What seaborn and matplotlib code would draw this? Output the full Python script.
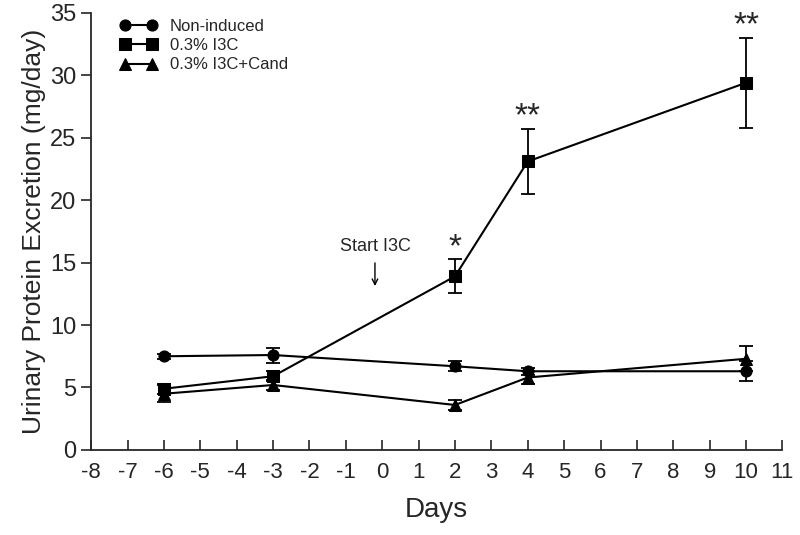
import numpy as np
import pandas as pd
import matplotlib
matplotlib.use("Agg")
import matplotlib.pyplot as plt
import seaborn as sns

# data
days = [-6, -3, 2, 4, 10]
groups = ["Non-induced", "0.3% I3C", "0.3% I3C+Cand"]
non_induced = [7.5, 7.6, 6.7, 6.3, 6.3]
non_induced_err = [0.2, 0.6, 0.4, 0.3, 0.8]
i3c = [4.9, 5.9, 13.9, 23.1, 29.4]
i3c_err = [0.4, 0.4, 1.35, 2.6, 3.6]
i3c_cand = [4.5, 5.2, 3.6, 5.8, 7.3]
i3c_cand_err = [0.7, 0.4, 0.4, 0.5, 1.0]
markers = {"Non-induced": "o", "0.3% I3C": "s", "0.3% I3C+Cand": "^"}

star_days = [2, 4, 10]
star_text = ["*", "**", "**"]

df = pd.DataFrame({
    "Days": days * 3,
    "Value": non_induced + i3c + i3c_cand,
    "Err": non_induced_err + i3c_err + i3c_cand_err,
    "Group": [g for g in groups for _ in days],
})

sns.set_style("ticks")
plt.rcParams["font.family"] = ["Liberation Sans", "DejaVu Sans"]
plt.rcParams["axes.unicode_minus"] = False

fig, ax = plt.subplots(figsize=(8, 5.35), dpi=100)
fig.subplots_adjust(left=0.114, right=0.978, top=0.976, bottom=0.159)

for g in groups:
    sub = df[df["Group"] == g]
    ax.errorbar(sub["Days"], sub["Value"], yerr=sub["Err"], fmt="none",
                ecolor="black", elinewidth=1.3, capsize=5, capthick=1.3, zorder=2)

sns.lineplot(data=df, x="Days", y="Value", style="Group", markers=markers,
             dashes=False, color="black", markersize=8, linewidth=1.5,
             markeredgecolor="black", ax=ax, zorder=3)

ax.set_xlim(-8, 11)
ax.set_ylim(0, 35)
ax.set_xticks(range(-8, 12))
ax.set_yticks(range(0, 36, 5))
ax.tick_params(axis="x", direction="in", length=7, width=1.2, labelsize=16, pad=9)
ax.tick_params(axis="y", direction="out", length=7, width=1.2, labelsize=17)
for s in ["left", "bottom"]:
    ax.spines[s].set_linewidth(1.3)
sns.despine(ax=ax)

ax.set_xlabel("Days", fontsize=20, labelpad=10)
ax.set_ylabel("Urinary Protein Excretion (mg/day)", fontsize=19, labelpad=3)

# significance stars
i3c_map = dict(zip(days, zip(i3c, i3c_err)))
for d, t in zip(star_days, star_text):
    v, e = i3c_map[d]
    ax.text(d, v + e - 0.3, t, ha="center", va="bottom", fontsize=24)

ax.annotate("", xy=(-0.2, 12.9), xytext=(-0.2, 15.2),
            arrowprops=dict(arrowstyle="->", color="black", lw=1))
ax.text(-0.2, 15.6, "Start I3C", ha="center", va="bottom", fontsize=13)

leg = ax.legend(loc="upper left", bbox_to_anchor=(0.02, 1.02), frameon=False,
                fontsize=12, numpoints=2, handlelength=2.2, labelspacing=0.25,
                handletextpad=0.8)

fig.savefig("out.png", dpi=100)
